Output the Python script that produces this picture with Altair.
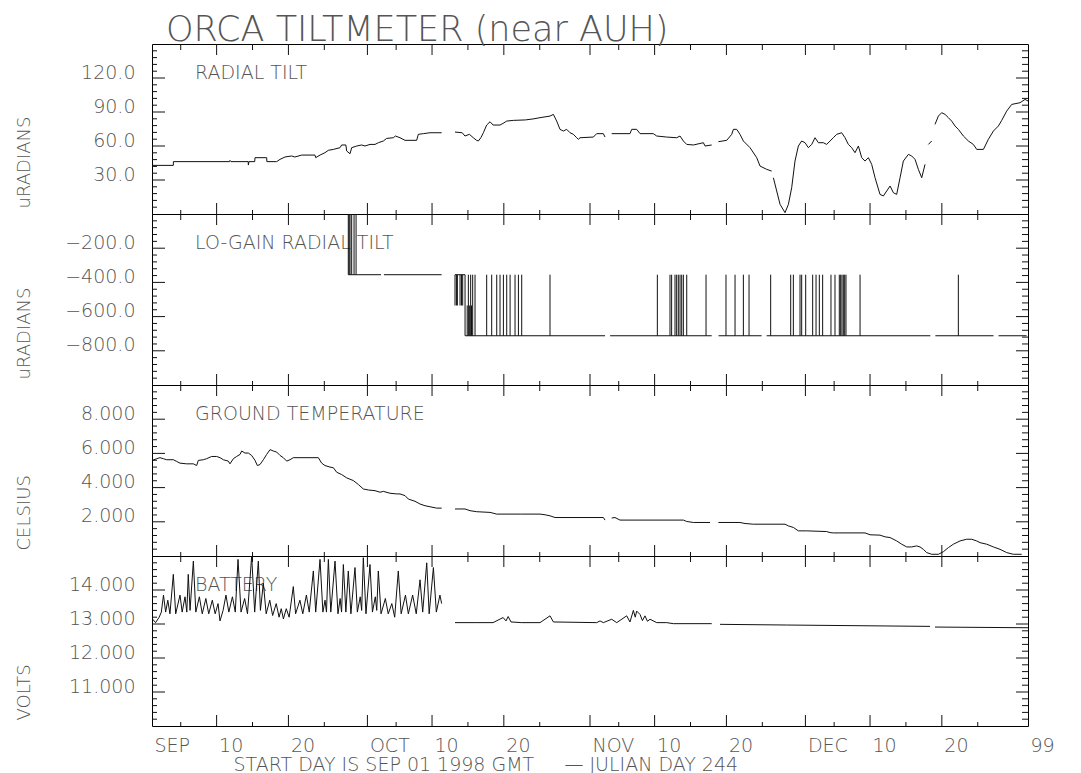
import altair as alt
import pandas as pd

FONT = "DejaVu Sans"
TXT = "#555555"
INK = "#111111"

# ---------------- x axis: days since 1998-09-01 00:00 GMT ----------------
x_domain = [0, 122]
tick_days = [0, 9, 19, 30, 39, 49, 61, 70, 80, 91, 100, 110, 122]
tick_labels = ["SEP", "10", "20", "OCT", "10", "20", "NOV", "10", "20", "DEC", "10", "20", "99"]
major_days = [9, 19, 30, 39, 49, 61, 70, 80, 91, 100, 110]
minor_days = [4, 14, 24, 34, 44, 54, 65, 75, 85, 95, 105, 115]

# ---------------- panel 1: radial tilt (uRADIANS) ----------------
tilt_days = [0.05, 2.97, 2.98, 10.8, 10.86, 11.0, 13.4, 13.42, 13.5, 14.3, 14.35, 15.97, 16.0, 17.36, 17.83,
             18.52, 19.45, 19.9, 20.85, 22.7, 22.8, 23.4, 24.09, 24.56, 25.26, 26.18, 26.42, 27.0, 27.11, 27.58,
             27.81, 28.51, 29.2, 29.67, 30.36, 31.06, 31.52, 32.22, 32.68, 33.61, 33.9, 34.54, 35.24, 36.86,
             37.09, 37.8, 38.72, 40.34, None,
             42.2, 43.2, 43.59, 44.2, 44.75, 45.2, 45.45, 45.8, 46.15, 46.61, 47.08, 47.5, 48.47, 48.9, 49.4,
             50.32, 52.0, 53.2, 54.04, 55.43, 55.9, 56.36, 56.82, 57.29, 57.75, 58.22, 58.68, 59.15, 59.38,
             59.61, 61.47, 61.93, 62.86, 63.09, None,
             64.02, 66.57, 66.81, 67.5, 67.97, 69.82, 70.29, 71.68, 73.07, 73.54, 74.0, 74.47, 75.4, 76.79,
             77.02, 77.95, None,
             78.88, 80.04, 80.74, 80.97, 81.43, 81.89, 82.36, 83.29, 84.22, 84.68, 85.61, 86.3, None,
             86.54, 87.0, 87.47, 88.16, 88.63, 89.09, 89.55, 90.02, 90.48, 90.95, 91.41, 91.88, 92.34, 92.81,
             93.5, 93.96, 94.43, 94.89, 95.36, 96.05, 96.52, 96.98, 97.45, 97.91, 98.38, 98.84, 99.3, 99.77,
             100.23, 100.7, 101.39, 101.86, 102.32, 102.79, 103.25, 103.71, 104.18, 104.64, 105.34, 105.8,
             106.27, 106.73, 107.2, 107.66, None,
             108.13, 108.59, None,
             109.05, 109.52, 109.98, 110.45, 110.91, 111.37, 111.84, 112.3, 113.0, 113.7, 114.39, 114.86,
             115.79, 116.48, 117.18, 117.87, 118.34, 119.03, 119.73, 120.89, 121.59, 122.0]
tilt_vals = [42.9, 42.9, 46.2, 46.2, 47.3, 46.2, 46.2, 43.2, 46.2, 46.2, 49.7, 49.7, 46.2, 46.2, 48.2,
             50.3, 51.2, 50.3, 52.0, 52.0, 49.7, 52.0, 54.1, 56.2, 57.0, 58.5, 60.9, 60.9, 55.6, 53.2,
             58.5, 60.0, 60.9, 60.0, 61.4, 61.4, 62.9, 64.4, 66.7, 67.3, 68.8, 67.3, 65.0, 65.0,
             70.3, 70.9, 71.7, 71.7, None,
             72.3, 71.7, 68.8, 70.3, 67.3, 65.0, 64.4, 67.3, 71.7, 78.5, 81.4, 78.5, 78.5, 80.0, 82.0,
             82.6, 83.0, 84.0, 85.0, 86.4, 87.9, 82.0, 74.7, 73.2, 74.7, 71.7, 70.3, 67.3, 65.9,
             67.3, 67.9, 70.9, 70.9, 67.9, None,
             70.9, 70.9, 74.7, 74.7, 70.9, 70.9, 68.8, 67.9, 67.3, 68.8, 64.4, 61.4, 60.9, 62.9,
             60.0, 60.9, None,
             63.8, 65.0, 70.3, 74.7, 74.7, 70.3, 64.4, 58.5, 49.7, 42.3, 39.4, 37.9, None,
             32.0, 20.3, 8.5, 1.2, 8.5, 23.2, 46.7, 60.0, 64.4, 62.9, 58.5, 61.4, 67.3, 62.9,
             62.9, 61.4, 64.4, 67.3, 70.3, 71.7, 67.3, 61.4, 58.5, 54.1, 60.0, 49.7, 46.7, 49.7,
             43.8, 32.0, 17.3, 15.9, 20.3, 24.7, 18.8, 17.3, 32.0, 46.7, 52.6, 51.2,
             48.2, 39.4, 32.0, 43.8, None,
             61.4, 64.4, None,
             79.1, 86.4, 89.4, 87.9, 85.0, 82.0, 77.6, 74.7, 68.8, 64.4, 61.4, 57.0,
             57.0, 65.9, 73.2, 77.6, 82.6, 90.8, 96.7, 98.2, 101.1, 99.7]
tilt_major = [30, 60, 90, 120]

# ---------------- panel 2: lo-gain radial tilt (uRADIANS) ----------------
lo_days = [27.34, 31.9, None, 32.3, 40.34, None, 42.2, 43.6, 43.6, 63.1, None, 63.8, 77.95, None,
           78.9, 84.9, None, 85.6, 108.4, None, 109.1, 117.2, None, 117.9, 121.8]
lo_vals = [-355, -355, None, -355, -355, None, -355, -355, -712, -712, None, -712, -712, None,
           -712, -712, None, -712, -712, None, -712, -712, None, -712, -712]
level_top, level_hi, level_mid, level_lo = 0, -355, -535, -712
up_spike_days = [27.34, 27.46, 27.58, 27.81, 28.14, 28.42]          # 0 .. -355
mid_spike_days = [42.2, 42.4, 42.53, 42.9, 43.1, 43.27]              # -355 .. -535
low_half_days = [43.9, 44.2, 44.5]                                   # -712 .. -535
lo_spike_days = [44.06, 44.38, 44.66, 44.99, 46.61, 47.31, 48.01, 48.47, 48.94, 49.40, 49.87, 50.56,
                 51.03, 51.49, 55.43, 70.38, 72.14, 72.37, 72.84, 73.07, 73.30, 73.54, 73.77, 74.00,
                 74.47, 77.16, 79.94, 81.20, 82.36, 83.15, 86.16, 88.95, 89.32, 90.25, 90.48, 91.04,
                 92.01, 92.48, 92.94, 93.40, 94.56, 95.12, 95.72, 95.91, 96.09, 96.28, 96.47, 96.65,
                 98.61, 112.30]                                      # -712 .. -355
lo_major = [-800, -600, -400, -200]

# ---------------- panel 3: ground temperature (CELSIUS) ----------------
temp_days = [0.05, 0.65, 1.11, 1.58, 2.04, 2.97, 3.43, 3.9, 4.83, 5.76, 6.22, 6.45, 7.15, 7.61, 8.31,
             9.01, 9.47, 9.94, 10.63, 10.86, 11.33, 11.79, 12.26, 12.49, 12.95, 13.42, 13.88, 14.35,
             14.67, 15.04, 15.51, 15.97, 16.44, 16.9, 17.36, 17.83, 18.29, 18.76, 19.22, 19.68, 23.17,
             23.63, 24.09, 24.79, 25.26, 25.72, 26.42, 27.11, 28.04, 28.74, 29.43, 30.13, 31.06, 31.75,
             32.22, 33.15, 34.08, 34.54, 35.24, 35.7, 36.63, 37.33, 38.02, 38.72, 39.65, 40.34, None,
             42.2, 43.59, 44.29, 45.22, 47.08, 48.01, 51.49, 54.04, 54.74, 55.43, 56.13, 62.86, 63.09, None,
             64.02, 64.48, 65.18, 74.0, 74.47, 75.4, 77.72, None,
             78.88, 81.89, 82.59, 83.75, 88.16, 88.63, 89.32, 90.02, 91.18, 93.96, 94.43, 94.89, 99.3,
             100.0, 101.39, 102.09, 102.79, 103.71, 104.41, 105.11, 105.8, 106.5, 106.96, 107.43, 107.89,
             108.59, 109.52, 110.21, 110.91, 111.61, 112.53, 113.46, 114.16, 114.86, 115.32, 116.25,
             117.18, 118.11, 119.03, 119.96, 121.12]
temp_vals = [5.59, 5.69, 5.75, 5.69, 5.63, 5.63, 5.53, 5.43, 5.39, 5.39, 5.29, 5.59, 5.63, 5.69, 5.82,
             5.82, 5.75, 5.63, 5.55, 5.39, 5.69, 5.82, 5.94, 6.14, 6.02, 6.02, 5.88, 5.59,
             5.29, 5.35, 5.63, 5.94, 6.22, 6.14, 6.08, 5.88, 5.75, 5.55, 5.63, 5.75, 5.75,
             5.43, 5.29, 5.20, 5.16, 4.90, 4.76, 4.57, 4.41, 4.18, 3.92, 3.86, 3.82, 3.73,
             3.78, 3.67, 3.63, 3.63, 3.53, 3.33, 3.20, 3.04, 2.94, 2.88, 2.80, 2.80, None,
             2.75, 2.75, 2.65, 2.59, 2.55, 2.45, 2.45, 2.45, 2.41, 2.35, 2.25, 2.25, 2.10, None,
             2.22, 2.25, 2.10, 2.10, 2.02, 1.96, 1.96, None,
             1.96, 1.96, 1.90, 1.86, 1.86, 1.76, 1.67, 1.47, 1.47, 1.43, 1.37, 1.35, 1.35,
             1.24, 1.22, 1.12, 1.08, 0.88, 0.69, 0.53, 0.53, 0.59, 0.53, 0.39, 0.20,
             0.10, 0.10, 0.25, 0.49, 0.69, 0.88, 0.98, 0.98, 0.88, 0.78, 0.69,
             0.53, 0.39, 0.20, 0.10, 0.10]
temp_major = [2, 4, 6, 8]

# ---------------- panel 4: battery (VOLTS) ----------------
batt_days = [0.05, 0.5, 1.0, 1.3, 1.6, 1.9, 2.2, 2.5, 2.97, 3.3, 3.9, 4.2, 4.6, 4.85, 5.05, 5.3, 5.76,
             6.1, 6.6, 7.0, 7.5, 7.9, 8.4, 8.8, 9.2, 9.47, 9.9, 10.3, 10.7, 11.2, 11.6, 11.98, 12.4, 12.9,
             13.3, 13.88, 14.3, 14.81, 15.1, 15.51, 15.9, 16.4, 16.8, 17.3, 17.7, 18.0, 18.3, 18.7, 19.1,
             19.68, 20.0, 20.6, 21.0, 21.5, 21.9, 22.47, 22.8, 23.4, 23.8, 24.1, 24.3, 24.56, 24.9, 25.49,
             25.9, 26.2, 26.4, 26.65, 27.0, 27.34, 27.7, 28.27, 28.6, 29.0, 29.2, 29.43, 29.8, 30.36, 30.7,
             31.1, 31.3, 31.52, 31.9, 32.5, 32.9, 33.4, 33.8, 34.3, 34.7, 35.3, 35.7, 36.3, 36.8, 37.33,
             37.7, 38.26, 38.6, 39.19, 39.6, 40.1, 40.34, None,
             42.2, 45.0, 47.5, 48.9, 49.3, 49.6, 50.0, 51.5, 54.04, 55.43, 55.9, 61.93, 62.4, 62.86, 64.02,
             64.72, 66.11, 66.57, 67.04, 67.3, 67.5, 67.97, 68.3, 68.66, 69.0, 69.36, 70.29, 71.68, 72.61,
             77.95, None,
             79.11, 88.4, 108.36, None,
             109.05, 122.0]
batt_vals = [13.15, 13.04, 13.2, 13.35, 13.85, 13.35, 13.7, 13.3, 14.46, 13.3, 13.85, 13.35, 13.8, 13.35,
             14.46, 13.4, 14.85, 13.35, 13.8, 13.3, 13.75, 13.3, 13.7, 13.3, 13.6, 13.09, 13.4, 13.85,
             13.35, 13.8, 13.35, 14.9, 13.35, 13.75, 13.3, 15.0, 13.35, 14.85, 13.4, 14.2, 13.3, 13.7,
             13.25, 13.6, 13.2, 13.45, 13.15, 13.45, 13.2, 14.1, 13.3, 13.7, 13.3, 13.85, 13.35, 14.56,
             13.35, 14.9, 13.35, 13.7, 13.35, 14.9, 13.35, 14.85, 13.3, 13.75, 13.35, 14.75, 13.35,
             14.56, 13.3, 14.66, 13.35, 13.8, 13.4, 14.95, 13.3, 14.75, 13.35, 13.8, 13.4, 14.56, 13.3,
             13.75, 13.3, 13.6, 13.2, 14.56, 13.3, 13.85, 13.3, 13.85, 13.3, 14.3, 13.35, 14.8, 13.3,
             14.66, 13.35, 13.85, 13.6, None,
             13.04, 13.04, 13.04, 13.19, 13.09, 13.22, 13.06, 13.04, 13.04, 13.24, 13.06, 13.04, 13.09,
             13.04, 13.14, 13.04, 13.24, 13.06, 13.40, 13.2, 13.38, 13.28, 13.1, 13.24, 13.08, 13.14,
             13.04, 13.04, 13.01, 13.01, None,
             12.99, 12.97, 12.93, None,
             12.91, 12.89]
batt_major = [11, 12, 13, 14]

W = 876
HEIGHTS = [170, 171, 171, 170]
xs = alt.Scale(domain=x_domain, nice=False, zero=False)


def series_df(days, vals):
    rows, seg = [], 0
    for d, v in zip(days, vals):
        if d is None or v is None:
            seg += 1
            continue
        rows.append({"day": d, "val": v, "seg": seg})
    return pd.DataFrame(rows)


def minor_ticks(lo, step):
    # four minor ticks between labelled ticks (tick positions, not data)
    return [lo + step * i for i in range(1, 25) if i % 5]


label_expr = " : ".join(f"datum.value == {d} ? '{t}'" for d, t in zip(tick_days, tick_labels)) + " : ''"


def make_axes(majors, fmt, ytitle, H, bottom):
    yaxis = alt.Axis(values=majors, format=fmt, ticks=False, tickSize=0, domain=False, grid=False,
                     labelPadding=17, labelBaseline="alphabetic", labelFont=FONT, labelFontSize=19,
                     labelFontWeight=200, labelColor=TXT, labelOverlap=False,
                     title=ytitle, titleFont=FONT, titleFontSize=18, titleFontWeight=200, titleColor=TXT,
                     titleAngle=270, titleX=-128, titleY=H - 6, titleAlign="left", titleBaseline="middle")
    if bottom:
        xaxis = alt.Axis(values=tick_days, labelExpr=label_expr, ticks=False, tickSize=0, domain=False,
                         grid=False, labelAlign="left", labelOffset=2, labelPadding=25,
                         labelBaseline="alphabetic", labelFlush=False, labelOverlap=False,
                         labelFont=FONT, labelFontSize=19, labelFontWeight=200, labelColor=TXT,
                         title="START DAY IS SEP 01 1998 GMT\u00a0\u00a0\u00a0\u00a0\u00a0\u2014 JULIAN DAY 244",
                         titleFont=FONT, titleFontSize=19, titleFontWeight=200, titleColor=TXT,
                         titleX=81, titleY=44, titleAlign="left", titleBaseline="alphabetic")
    else:
        xaxis = None
    return xaxis, yaxis


def tick_layers(ys, xaxis, yaxis, majors, minors, H):
    xe = alt.X("day:Q", scale=xs, axis=xaxis)
    ye = alt.Y("val:Q", scale=ys, axis=yaxis)
    xmaj = alt.Chart(pd.DataFrame({"day": major_days}))
    xmin = alt.Chart(pd.DataFrame({"day": minor_days}))
    ymaj = alt.Chart(pd.DataFrame({"val": majors}))
    ymin = alt.Chart(pd.DataFrame({"val": minors}))
    r = dict(color=INK, strokeWidth=1)
    return [
        xmaj.mark_rule(**r).encode(x=xe, y=alt.value(0), y2=alt.value(11)),
        xmaj.mark_rule(**r).encode(x=xe, y=alt.value(H), y2=alt.value(H - 11)),
        xmin.mark_rule(**r).encode(x=xe, y=alt.value(0), y2=alt.value(6)),
        xmin.mark_rule(**r).encode(x=xe, y=alt.value(H), y2=alt.value(H - 4)),
        ymaj.mark_rule(**r).encode(y=ye, x=alt.value(0), x2=alt.value(13)),
        ymaj.mark_rule(**r).encode(y=ye, x=alt.value(W), x2=alt.value(W - 12)),
        ymin.mark_rule(**r).encode(y=ye, x=alt.value(0), x2=alt.value(5)),
        ymin.mark_rule(**r).encode(y=ye, x=alt.value(W), x2=alt.value(W - 6)),
    ]


def spikes(ys, xaxis, yaxis):
    rows = ([{"day": d, "val": level_top, "b": level_hi} for d in up_spike_days]
            + [{"day": d, "val": level_hi, "b": level_mid} for d in mid_spike_days]
            + [{"day": d, "val": level_lo, "b": level_mid} for d in low_half_days]
            + [{"day": d, "val": level_lo, "b": level_hi} for d in lo_spike_days])
    return [alt.Chart(pd.DataFrame(rows)).mark_rule(color=INK, strokeWidth=1, clip=True).encode(
        x=alt.X("day:Q", scale=xs, axis=xaxis),
        y=alt.Y("val:Q", scale=ys, axis=yaxis),
        y2="b:Q",
    )]


def panel(df, ydom, majors, minors, fmt, ytitle, label, H, bottom=False, extra=None):
    ys = alt.Scale(domain=ydom, nice=False, zero=False)
    xaxis, yaxis = make_axes(majors, fmt, ytitle, H, bottom)
    text = alt.Chart(pd.DataFrame({"t": [label]})).mark_text(
        align="left", baseline="alphabetic", font=FONT, fontSize=19, fontWeight=200, color=TXT
    ).encode(x=alt.value(43), y=alt.value(35), text="t:N")
    line = alt.Chart(df).mark_line(color=INK, strokeWidth=1, clip=True).encode(
        x=alt.X("day:Q", scale=xs, axis=xaxis),
        y=alt.Y("val:Q", scale=ys, axis=yaxis),
        detail="seg:N",
    )
    layers = [text] + tick_layers(ys, xaxis, yaxis, majors, minors, H)
    if extra:
        layers += extra(ys, xaxis, yaxis)
    layers.append(line)
    return alt.layer(*layers).properties(width=W, height=H)


p1 = panel(series_df(tilt_days, tilt_vals), [0, 150], tilt_major, minor_ticks(0, 6), ".1f",
           "uRADIANS", "RADIAL TILT", HEIGHTS[0])
p2 = panel(series_df(lo_days, lo_vals), [-1000, 0], lo_major, minor_ticks(-1000, 40), ".1f",
           "uRADIANS", "LO-GAIN RADIAL TILT", HEIGHTS[1], extra=spikes)
p3 = panel(series_df(temp_days, temp_vals), [0, 10], temp_major, minor_ticks(0, 0.4), ".3f",
           "CELSIUS", "GROUND TEMPERATURE", HEIGHTS[2])
p4 = panel(series_df(batt_days, batt_vals), [10, 15], batt_major, minor_ticks(10, 0.2), ".3f",
           "VOLTS", "BATTERY", HEIGHTS[3], bottom=True)

chart = alt.vconcat(
    p1, p2, p3, p4, spacing=0, bounds="flush",
    title=alt.TitleParams(text="ORCA TILTMETER (near AUH)", anchor="start", frame="group", font=FONT,
                          fontSize=35, fontWeight=200, color=TXT, baseline="alphabetic", offset=-33, dx=14),
).properties(
    padding={"left": 6, "top": 5, "right": 10, "bottom": 2}
).configure_view(stroke="#000000", strokeWidth=1).configure_concat(spacing=0)

chart.save("out.html", embed_options={"renderer": "svg", "actions": False})
